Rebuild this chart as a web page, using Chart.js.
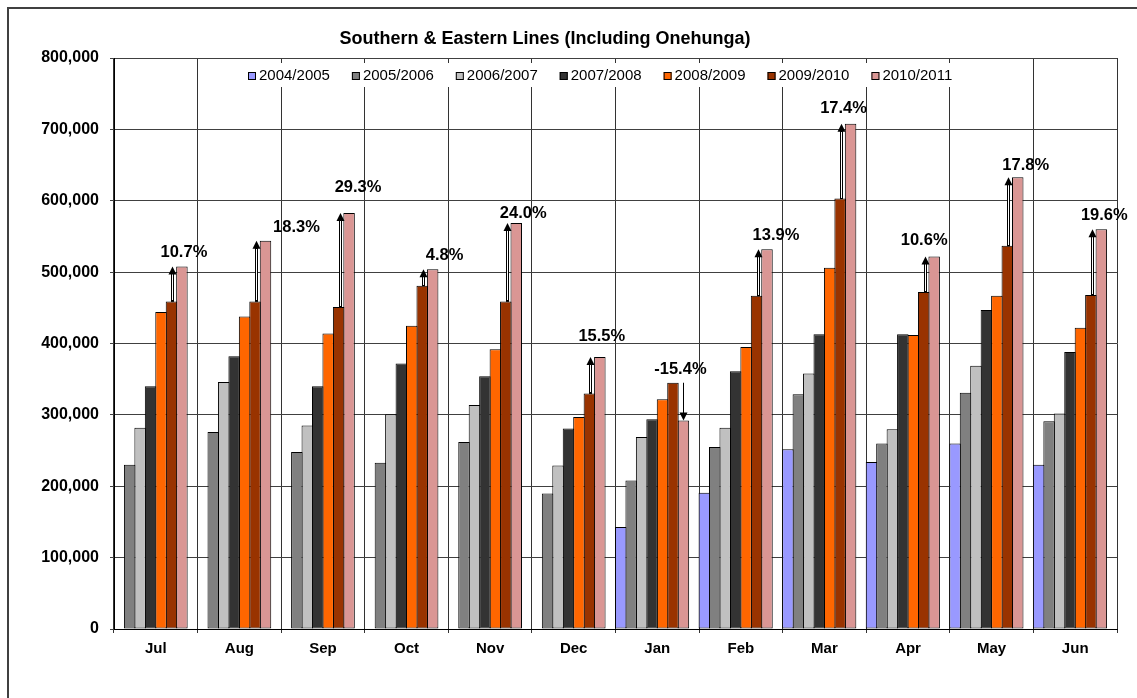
<!DOCTYPE html>
<html>
<head>
<meta charset="utf-8">
<title>Southern & Eastern Lines (Including Onehunga)</title>
<script src="https://cdn.jsdelivr.net/npm/chart.js@4.4.1/dist/chart.umd.min.js"></script>
<style>
  html, body { margin: 0; padding: 0; background: #fff; }
  #wrap { width: 1137px; height: 698px; }
</style>
</head>
<body>
<div id="wrap"><canvas id="chart" width="1137" height="698"></canvas></div>
<script>
const chartTitle = "Southern & Eastern Lines (Including Onehunga)";
const months = ["Jul", "Aug", "Sep", "Oct", "Nov", "Dec", "Jan", "Feb", "Mar", "Apr", "May", "Jun"];
const years = ["2004/2005", "2005/2006", "2006/2007", "2007/2008", "2008/2009", "2009/2010", "2010/2011"];

// patronage per month, one array per financial year
const y0405 = [null, null, null, null, null, null, 143000, 191000, 252000, 234000, 260000, 230000];
const y0506 = [230000, 276000, 248000, 233000, 262000, 190000, 208000, 255000, 329000, 260000, 331000, 291000];
const y0607 = [282000, 346000, 285000, 301000, 314000, 229000, 269000, 282000, 358000, 280000, 369000, 302000];
const y0708 = [340000, 382000, 340000, 372000, 354000, 281000, 294000, 361000, 413000, 413000, 447000, 388000];
const y0809 = [444000, 438000, 414000, 425000, 392000, 297000, 322000, 395000, 506000, 412000, 467000, 422000];
const y0910 = [459000, 459000, 451000, 481000, 459000, 330000, 345000, 467000, 603000, 472000, 537000, 468000];
const y1011 = [508000, 544000, 583000, 504000, 569000, 381000, 292000, 532000, 708000, 522000, 633000, 560000];

// change 2009/2010 -> 2010/2011 as printed on the chart
const growthLabels = ["10.7%", "18.3%", "29.3%", "4.8%", "24.0%", "15.5%", "-15.4%", "13.9%", "17.4%", "10.6%", "17.8%", "19.6%"];

const seriesValues = [y0405, y0506, y0607, y0708, y0809, y0910, y1011];
const barColours = ["#9999FF", "#808080", "#C0C0C0", "#333333", "#FF6600", "#993300", "#DA9694"];

const FONT = 'Arial, "Liberation Sans", sans-serif';

const datasets = years.map((label, i) => ({
  label: label,
  data: seriesValues[i],
  backgroundColor: barColours[i],
  borderColor: "#000",
  borderWidth: 1,
  borderSkipped: false,
}));
// empty slot after each month, like the original spreadsheet chart
datasets.push({ label: "", data: months.map(() => null) });

const withCommas = (v) => String(v).replace(/\B(?=(\d{3})+(?!\d))/g, ",");

// arrows and % labels between the last two years
const growthArrows = {
  id: "growthArrows",
  afterDatasetsDraw(chart, args, opts) {
    const ctx = chart.ctx;
    const prev = chart.getDatasetMeta(5).data;
    const curr = chart.getDatasetMeta(6).data;
    ctx.save();
    ctx.strokeStyle = "#000";
    ctx.fillStyle = "#000";
    ctx.lineWidth = 1;
    months.forEach((m, i) => {
      const a = prev[i], b = curr[i];
      const up = b.y < a.y;
      const dir = up ? 1 : -1;
      const x = Math.round(up ? a.x : b.x) + 0.5;
      if (up) {
        // thin hollow shaft
        ctx.fillStyle = "#fff";
        ctx.fillRect(x, b.y + 7, 2, a.y - b.y - 7);
        ctx.strokeRect(x, b.y + 7, 2, a.y - b.y - 7);
      } else {
        ctx.beginPath();
        ctx.moveTo(x, a.y);
        ctx.lineTo(x, b.y - 7);
        ctx.stroke();
      }
      const hx = up ? x + 1 : x;
      ctx.fillStyle = "#000";
      ctx.beginPath();
      ctx.moveTo(hx, b.y);
      ctx.lineTo(hx - 4, b.y + dir * 8);
      ctx.lineTo(hx + 4, b.y + dir * 8);
      ctx.closePath();
      ctx.fill();

      const shift = opts.shift[i];
      ctx.font = "bold 16.5px " + FONT;
      ctx.textAlign = "center";
      ctx.textBaseline = "alphabetic";
      ctx.fillText(growthLabels[i], b.x + 1 + shift[0], Math.min(a.y, b.y) - 9 + shift[1]);
    });
    ctx.restore();
  },
};

// outer frame, title and the legend sitting inside the plot
const frame = {
  id: "frame",
  afterDraw(chart) {
    const ctx = chart.ctx;
    ctx.save();
    ctx.strokeStyle = "#404040";
    ctx.lineWidth = 2;
    ctx.strokeRect(8, 8, chart.width + 10, chart.height + 10);

    ctx.fillStyle = "#000";
    ctx.font = "bold 18px " + FONT;
    ctx.textAlign = "center";
    ctx.textBaseline = "middle";
    ctx.fillText(chartTitle, 545, 39);

    ctx.font = "15px " + FONT;
    ctx.textAlign = "left";
    let x = 248;
    const items = years.map((label, i) => {
      const item = { x: x, label: label, colour: barColours[i] };
      x += 10 + ctx.measureText(label).width + 23;
      return item;
    });
    ctx.fillStyle = "#fff";
    ctx.fillRect(243, 63, x - 23 - 243 + 6, 24);
    items.forEach((it) => {
      ctx.fillStyle = it.colour;
      ctx.fillRect(it.x, 72, 8, 8);
      ctx.strokeStyle = "#000";
      ctx.lineWidth = 1;
      ctx.strokeRect(it.x + 0.5, 72.5, 7, 7);
      ctx.fillStyle = "#000";
      ctx.fillText(it.label, it.x + 11, 76);
    });
    ctx.restore();
  },
};

new Chart(document.getElementById("chart"), {
  type: "bar",
  data: { labels: months, datasets: datasets },
  options: {
    responsive: false,
    animation: false,
    devicePixelRatio: 1,
    layout: { padding: { top: 58, right: 20, bottom: 0, left: 0 } },
    datasets: { bar: { categoryPercentage: 1, barPercentage: 1.1 } },
    plugins: {
      legend: { display: false },
      tooltip: { enabled: false },
      title: { display: false },
      // the % text boxes were placed by hand in the original
      growthArrows: {
        shift: [[1, 0], [30, 0], [8, -12], [11, 0], [6, 4], [1, -7], [-4, 0], [8, 0], [-8, -2], [-11, -2], [7, 2], [2, 0]],
      },
    },
    scales: {
      x: {
        grid: { color: "#333", lineWidth: 1, tickLength: 4, offset: true },
        border: { color: "#000" },
        ticks: { color: "#000", padding: 7, font: { family: FONT, size: 15, weight: "bold" } },
        afterFit: (s) => { s.height = 69; },
      },
      y: {
        min: 0,
        max: 800000,
        grid: { color: "#404040", lineWidth: 1, tickLength: 4 },
        border: { color: "#000" },
        ticks: {
          stepSize: 100000,
          color: "#000",
          padding: 11,
          font: { family: FONT, size: 16, weight: "bold" },
          callback: (v) => withCommas(v),
        },
        afterFit: (s) => { s.width = 114; },
      },
    },
  },
  plugins: [growthArrows, frame],
});
</script>
</body>
</html>
